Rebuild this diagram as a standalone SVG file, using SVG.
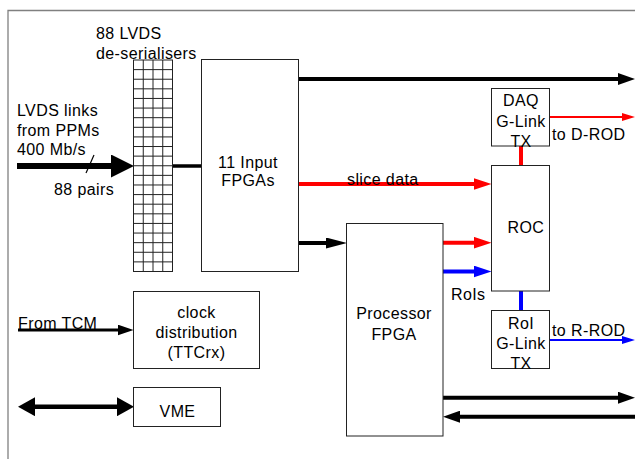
<svg xmlns="http://www.w3.org/2000/svg" width="635" height="459" viewBox="0 0 635 459">
<style>
text{font-family:"Liberation Sans",Arial,sans-serif;font-size:16px;letter-spacing:0.4px;fill:#000}
.c{text-anchor:middle}
.box{fill:#fff;stroke:#222;stroke-width:1}
.grid{fill:none;stroke:#222;stroke-width:1}
.blk{stroke:#000;fill:none}
.red{stroke:#f00;fill:none}
.blu{stroke:#00f;fill:none}
</style>
<defs>
<marker id="hBig" markerUnits="userSpaceOnUse" markerWidth="23" markerHeight="23" refX="11" refY="11.5" orient="auto"><path d="M0,0L23,11.5L0,23z" fill="#000"/></marker>
<marker id="hBlk" markerUnits="userSpaceOnUse" markerWidth="17" markerHeight="12" refX="8" refY="6" orient="auto"><path d="M0,0L17,6L0,12z" fill="#000"/></marker>
<marker id="hBlkS" markerUnits="userSpaceOnUse" markerWidth="21" markerHeight="11" refX="10" refY="5.5" orient="auto"><path d="M0,0L21,5.5L0,11z" fill="#000"/></marker>
<marker id="hRed" markerUnits="userSpaceOnUse" markerWidth="18" markerHeight="12" refX="9" refY="6" orient="auto"><path d="M0,0L18,6L0,12z" fill="#f00"/></marker>
<marker id="hBlu" markerUnits="userSpaceOnUse" markerWidth="18" markerHeight="12" refX="9" refY="6" orient="auto"><path d="M0,0L18,6L0,12z" fill="#00f"/></marker>
<marker id="hRedT" markerUnits="userSpaceOnUse" markerWidth="13" markerHeight="8" refX="6" refY="4" orient="auto"><path d="M0,0L13,4L0,8z" fill="#f00"/></marker>
<marker id="hBluT" markerUnits="userSpaceOnUse" markerWidth="13" markerHeight="8" refX="6" refY="4" orient="auto"><path d="M0,0L13,4L0,8z" fill="#00f"/></marker>
<marker id="hTcm" markerUnits="userSpaceOnUse" markerWidth="16" markerHeight="11" refX="8" refY="5.5" orient="auto"><path d="M0,0L16,5.5L0,11z" fill="#000"/></marker>
<marker id="hVme" markerUnits="userSpaceOnUse" markerWidth="17" markerHeight="19" refX="8" refY="9.5" orient="auto-start-reverse"><path d="M0,0L17,9.5L0,19z" fill="#000"/></marker>
</defs>
<rect width="635" height="459" fill="#fff"/>
<path d="M8,459V10.5H635" fill="none" stroke="#808080" stroke-width="1.3"/>

<g id="connectors">
<line class="blk" x1="17" y1="166" x2="122" y2="166" stroke-width="6" marker-end="url(#hBig)"/>
<line class="blk" x1="94" y1="155" x2="86" y2="173" stroke-width="1.2"/>
<line class="blk" x1="172.5" y1="166" x2="201.5" y2="166" stroke-width="3.5"/>
<line class="blk" x1="298.5" y1="79" x2="626" y2="79" stroke-width="4" marker-end="url(#hBlk)"/>
<line class="red" x1="298.5" y1="184" x2="482.5" y2="184" stroke-width="4" marker-end="url(#hRed)"/>
<line class="blk" x1="298.5" y1="243" x2="336" y2="243" stroke-width="4" marker-end="url(#hBlkS)"/>
<line class="red" x1="443" y1="242.7" x2="482.5" y2="242.7" stroke-width="4" marker-end="url(#hRed)"/>
<line class="blu" x1="443" y1="271.5" x2="482.5" y2="271.5" stroke-width="4" marker-end="url(#hBlu)"/>
<line class="red" x1="521" y1="146" x2="521" y2="165.5" stroke-width="4"/>
<line class="red" x1="549.5" y1="117" x2="628" y2="117" stroke-width="2" marker-end="url(#hRedT)"/>
<line class="blu" x1="521" y1="291" x2="521" y2="310.5" stroke-width="4"/>
<line class="blu" x1="549.5" y1="340" x2="628" y2="340" stroke-width="2" marker-end="url(#hBluT)"/>
<line class="blk" x1="443" y1="397.7" x2="626" y2="397.7" stroke-width="4" marker-end="url(#hBlk)"/>
<line class="blk" x1="635" y1="416.7" x2="452" y2="416.7" stroke-width="4" marker-end="url(#hBlk)"/>
<line class="blk" x1="18" y1="330" x2="125.5" y2="330" stroke-width="3" marker-end="url(#hTcm)"/>
<line class="blk" x1="27" y1="406.7" x2="125" y2="406.7" stroke-width="4.5" marker-start="url(#hVme)" marker-end="url(#hVme)"/>
</g>

<g id="deserialisers">
<rect x="133.5" y="60" width="39" height="211.5" fill="#fff" class="grid"/>
<path class="grid" d="M143.25,60V271.5M153,60V271.5M162.75,60V271.5M133.5,69.61H172.5M133.5,79.23H172.5M133.5,88.84H172.5M133.5,98.45H172.5M133.5,108.07H172.5M133.5,117.68H172.5M133.5,127.3H172.5M133.5,136.91H172.5M133.5,146.52H172.5M133.5,156.14H172.5M133.5,165.75H172.5M133.5,175.36H172.5M133.5,184.98H172.5M133.5,194.59H172.5M133.5,204.2H172.5M133.5,213.82H172.5M133.5,223.43H172.5M133.5,233.05H172.5M133.5,242.66H172.5M133.5,252.27H172.5M133.5,261.89H172.5"/>
<text x="96" y="39">88 LVDS</text>
<text x="96" y="58.5">de-serialisers</text>
</g>

<g id="lvds-links">
<text x="17" y="116.3">LVDS links</text>
<text x="17" y="135.8">from PPMs</text>
<text x="17" y="155.3">400 Mb/s</text>
<text x="54" y="195">88 pairs</text>
</g>

<g id="input-fpgas">
<rect class="box" x="201.5" y="59.5" width="97" height="212"/>
<text class="c" x="248" y="167.7">11 Input</text>
<text class="c" x="248" y="185.7">FPGAs</text>
</g>

<g id="slice-label">
<text x="347" y="185">slice data</text>
</g>

<g id="daq-glink">
<rect class="box" x="491.5" y="88.5" width="58" height="57.5"/>
<text class="c" x="521" y="106">DAQ</text>
<text class="c" x="521" y="126.7">G-Link</text>
<text class="c" x="521" y="147.3">TX</text>
<text x="552" y="140">to D-ROD</text>
</g>

<g id="roc">
<rect class="box" x="491.5" y="165.5" width="58" height="125.5"/>
<text x="507.5" y="233.3">ROC</text>
</g>

<g id="processor-fpga">
<rect class="box" x="346.5" y="223.5" width="96.5" height="212.5"/>
<text class="c" x="394" y="319.3">Processor</text>
<text class="c" x="394" y="340">FPGA</text>
<text x="451" y="300">RoIs</text>
</g>

<g id="roi-glink">
<rect class="box" x="491.5" y="310.5" width="58" height="58"/>
<text class="c" x="521" y="329.3">RoI</text>
<text class="c" x="521" y="349.3">G-Link</text>
<text class="c" x="521" y="369.3">TX</text>
<text x="552" y="336">to R-ROD</text>
</g>

<g id="clock">
<rect class="box" x="133.5" y="291.5" width="126" height="77"/>
<text class="c" x="196.5" y="318.3">clock</text>
<text class="c" x="196.5" y="338.3">distribution</text>
<text class="c" x="196.5" y="358.3">(TTCrx)</text>
<text x="18" y="329.3">From TCM</text>
</g>

<g id="vme">
<rect class="box" x="133.5" y="387.5" width="87" height="39"/>
<text class="c" x="177.5" y="416.7">VME</text>
</g>
</svg>
